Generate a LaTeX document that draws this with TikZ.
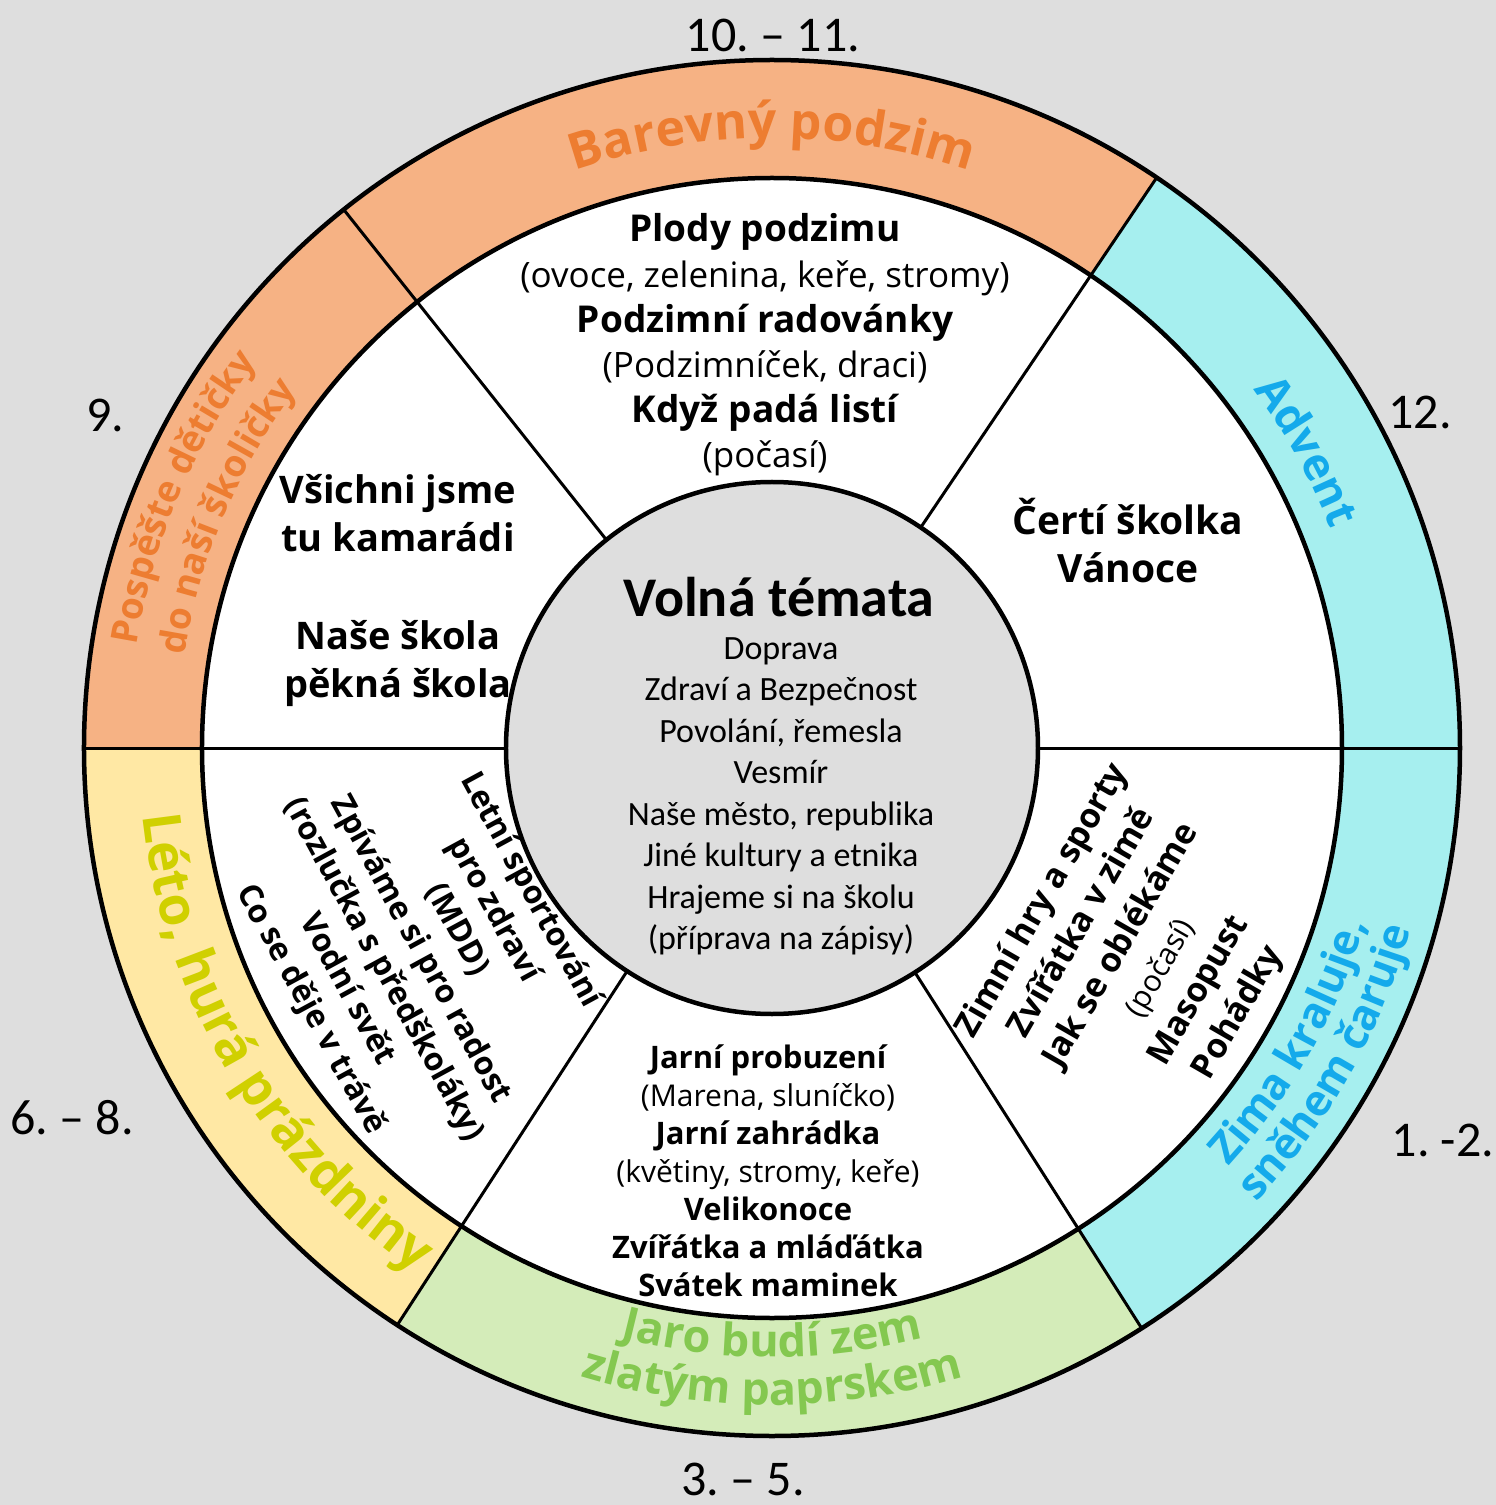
\documentclass[tikz,border=0pt]{standalone}
\usepackage{fontspec}
\setmainfont{Carlito}
\newfontfamily\comicf{Open Sans}
\usetikzlibrary{decorations.text}
\definecolor{bg}{RGB}{222,222,222}
\definecolor{orR}{RGB}{246,178,132}
\definecolor{orT}{RGB}{237,125,49}
\definecolor{cyR}{RGB}{166,239,239}
\definecolor{cyT}{RGB}{20,170,235}
\definecolor{yeR}{RGB}{255,232,164}
\definecolor{yeT}{RGB}{208,208,0}
\definecolor{grR}{RGB}{212,236,185}
\definecolor{grT}{RGB}{132,200,80}
\newcommand\rfBig{\comicf\bfseries\fontsize{50}{60}\selectfont}
\newcommand\rfAdv{\comicf\bfseries\fontsize{45}{54}\selectfont}
\newcommand\rfJaro{\comicf\bfseries\fontsize{45}{54}\selectfont}
\newcommand\rfSmall{\comicf\bfseries\fontsize{37}{46}\selectfont}
\newcommand\rfLeto{\comicf\bfseries\fontsize{53}{62}\selectfont}
\newcommand\rfZima{\comicf\bfseries\fontsize{43}{52}\selectfont}
\newcommand\ringsector[3]{\fill[#1] (#2:570pt) arc[start angle=#2,end angle=#3,radius=570pt] -- (#3:688pt) arc[start angle=#3,end angle=#2,radius=688pt] -- cycle;}
\begin{document}
\begin{tikzpicture}[x=1pt,y=1pt,
  ringline/.style={line width=4.5pt},
  radline/.style={line width=3pt},
  sect/.style={align=center, inner sep=0pt, text=black},
  num/.style={font=\frenchspacing\fontsize{50}{60}\selectfont, inner sep=0pt},
  arctext/.style={decorate, decoration={text along path, text align=center, text color=#1}}
]
\path[use as bounding box, fill=bg] (-772,-757) rectangle (724,748);
\coordinate (O) at (0,0);
% ring sectors
\ringsector{orR}{128.5}{180}
\ringsector{orR}{56}{128.5}
\ringsector{cyR}{0}{56}
\ringsector{cyR}{-57.5}{0}
\ringsector{grR}{-123}{-57.5}
\ringsector{yeR}{180}{237}
\fill[white] (O) circle[radius=570pt];
% radial dividers
\foreach \a in {0,56,128.5,180,237,302.5}{
  \draw[radline] (\a:266pt) -- (\a:688pt);
}
% circles
\draw[ringline] (O) circle[radius=688pt];
\draw[ringline] (O) circle[radius=570pt];
\draw[ringline, fill=bg] (O) circle[radius=266pt];

% ring labels
\path[arctext=orT, decoration={text={|\rfBig|Barevný podzim}}] (130:610pt) arc[start angle=130, end angle=50, radius=610pt];
\path[arctext=orT, decoration={text={|\rfSmall|Pospěšte dětičky}}] (192:644pt) arc[start angle=192, end angle=122, radius=644pt];
\path[arctext=orT, decoration={text={|\rfSmall|do naší školičky}}] (192:595pt) arc[start angle=192, end angle=122, radius=595pt];
\path[arctext=cyT, decoration={text={|\rfAdv|Advent}}] (59:600pt) arc[start angle=59, end angle=-1, radius=600pt];
\path[arctext=cyT, decoration={text={|\rfZima|Zima kraluje,}}] (-64.5:619pt) arc[start angle=-64.5, end angle=5.5, radius=619pt];
\path[arctext=cyT, decoration={text={|\rfZima|sněhem čaruje}}] (-64.5:664pt) arc[start angle=-64.5, end angle=5.5, radius=664pt];
\path[arctext=grT, decoration={text={|\rfJaro|Jaro budí zem}}] (-125:609pt) arc[start angle=-125, end angle=-55, radius=609pt];
\path[arctext=grT, decoration={text={|\rfJaro|zlatým paprskem}}] (-125:657pt) arc[start angle=-125, end angle=-55, radius=657pt];
\path[arctext=yeT, decoration={text={|\rfLeto|Léto, hurá prázdniny}}] (171:633pt) arc[start angle=171, end angle=251, radius=633pt];

% month numbers
\node[num] (n1011) at (1,713) {10. – 11.};
\node[num] (n9) at (-667,333) {9.};
\node[num] (n12) at (648,336) {12.};
\node[num] (n68) at (-700,-370) {6. – 8.};
\node[num] (n12b) at (671,-392) {1. -2.};
\node[num] (n35) at (-29,-731) {3. – 5.};

% centre
\node[sect, font=\bfseries\fontsize{56}{64}\selectfont] (volna) at (7,151) {Volná témata};
\node[sect, font=\fontsize{34}{41.5}\selectfont] (list) at (9,-48.5) {Doprava\\Zdraví a Bezpečnost\\Povolání, řemesla\\Vesmír\\Naše město, republika\\Jiné kultury a etnika\\Hrajeme si na školu\\(příprava na zápisy)};

% sections
\node[sect, font=\comicf\bfseries\fontsize{37}{45.2}\selectfont] (autumn) at (-7,403) {Plody podzimu\\{\mdseries\fontsize{35}{45.2}\selectfont (ovoce, zelenina, keře, stromy)}\\Podzimní radovánky\\{\mdseries\fontsize{35}{45.2}\selectfont (Podzimníček, draci)}\\Když padá listí\\{\mdseries\fontsize{35}{45.2}\selectfont (počasí)}};
\node[sect, font=\comicf\bfseries\fontsize{38}{48.7}\selectfont] (sept) at (-374,157.5) {Všichni jsme\\tu kamarádi\\[48.7pt]Naše škola\\pěkná škola};
\node[sect, font=\comicf\bfseries\fontsize{39}{48}\selectfont] (dec) at (356,207) {Čertí školka\\Vánoce};
\node[sect, font=\comicf\bfseries\fontsize{31}{38}\selectfont] (spring) at (-4,-423) {Jarní probuzení\\{\mdseries\fontsize{30}{38}\selectfont (Marena, sluníčko)}\\Jarní zahrádka\\{\mdseries\fontsize{30}{38}\selectfont (květiny, stromy, keře)}\\Velikonoce\\Zvířátka a mláďátka\\Svátek maminek};
\node[sect, rotate=-61.5, font=\comicf\bfseries\fontsize{32}{41.7}\selectfont] (summer) at (-352,-202) {Letní sportování\\pro zdraví\\(MDD)\\Zpíváme si pro radost\\(rozlučka s předškoláky)\\Vodní svět\\Co se děje v trávě};
\node[sect, rotate=60, font=\comicf\bfseries\fontsize{34}{45}\selectfont] (winter) at (369,-209) {Zimní hry a sporty\\Zvířátka v zimě\\Jak se oblékáme\\{\mdseries\fontsize{30}{45}\selectfont (počasí)}\\Masopust\\Pohádky};
\end{tikzpicture}
\end{document}
